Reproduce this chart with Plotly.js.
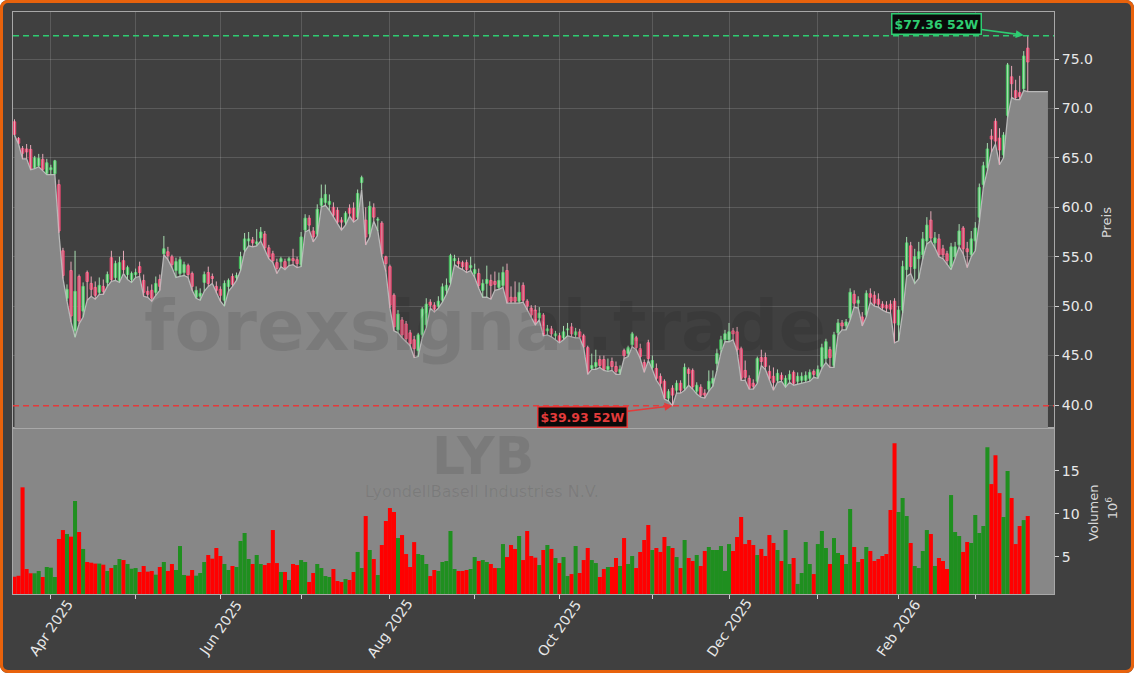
<!DOCTYPE html>
<html><head><meta charset="utf-8">
<script src="https://cdn.plot.ly/plotly-3.0.1.min.js"></script>
<style>
html,body{margin:0;padding:0;background:#ffffff;}
#wrap{position:relative;width:1134px;height:673px;}
#chart{position:absolute;left:0;top:0;width:1134px;height:673px;border-radius:8px;overflow:hidden;}
#frame{position:absolute;left:0;top:0;width:1134px;height:673px;box-sizing:border-box;border:3px solid #e8620c;border-radius:8px;pointer-events:none;}
</style></head><body>
<div id="wrap"><div id="chart"></div><div id="frame"></div></div>
<script>
// ---- data (LYB daily, 52 weeks) ----
const firstDay = '2025-03-19';
const holidays = ['2025-04-18','2025-05-26','2025-06-19','2025-07-04','2025-09-01','2025-11-27','2025-12-25','2026-01-01','2026-01-19','2026-02-16'];
const tickLabels = ['Apr 2025','Jun 2025','Aug 2025','Oct 2025','Dec 2025','Feb 2026'];
const priceTicks = [40,45,50,55,60,65,70,75];
const volumeTicks = [5,10,15];

const open = [68.65,66.97,65.96,65.9,65.86,64.0,64.2,64.85,63.4,63.8,63.4,62.3,55.6,50.8,53.6,47.5,53.0,49.5,53.4,52.3,
51.9,51.4,52.0,52.4,54.9,52.9,52.6,54.6,53.2,52.7,53.2,54.0,52.6,51.5,51.6,51.4,52.7,55.3,55.5,55.0,
53.6,53.3,53.4,54.1,53.3,50.9,51.0,52.4,53.4,53.0,52.0,51.7,50.6,52.0,53.0,52.9,53.8,55.7,56.6,56.7,
56.3,56.9,57.3,55.9,55.3,54.4,54.5,54.5,54.6,54.8,54.7,54.2,57.7,58.9,57.6,57.3,60.2,60.5,60.3,60.0,
59.7,58.7,58.5,59.9,59.9,59.0,62.5,58.7,57.3,59.95,58.7,58.4,55.0,54.0,51.1,47.6,48.6,48.2,47.3,46.6,
45.5,47.1,48.1,50.4,50.1,50.0,50.6,51.6,52.4,54.6,54.5,54.4,54.4,53.9,53.3,53.3,51.6,52.3,52.6,52.5,
51.9,52.1,53.6,50.9,50.9,50.5,52.1,50.5,49.8,49.6,48.8,49.1,47.5,47.7,47.0,47.0,46.8,47.6,47.9,47.1,
47.4,47.0,45.8,43.7,43.9,44.6,44.6,43.6,44.4,43.9,43.3,45.5,45.2,46.1,46.8,45.7,44.3,46.3,43.8,43.7,
42.9,42.4,40.7,41.7,41.5,42.2,41.7,43.6,43.5,41.4,41.8,41.2,41.6,42.2,44.2,45.6,46.6,46.6,47.5,47.4,
45.7,43.5,42.7,42.2,42.4,44.8,44.8,43.4,42.9,42.5,43.0,42.0,42.6,43.3,42.4,42.5,42.5,42.7,43.4,42.9,
43.9,44.7,45.6,44.0,47.3,48.3,48.0,48.8,51.2,50.3,48.9,49.1,51.25,51.1,50.7,50.2,50.1,50.2,50.5,48.1,
49.6,53.7,56.1,53.8,54.8,55.2,56.6,58.7,56.4,56.8,55.8,55.3,54.0,55.0,56.2,57.9,55.8,55.2,56.6,59.0,
62.3,64.0,67.2,68.7,67.0,65.3,69.3,73.2,71.8,71.6,72.0,76.1];
const high = [68.9,67.1,66.2,66.4,66.3,65.2,65.4,65.4,64.9,64.3,64.8,62.8,55.9,52.2,54.5,55.6,53.2,52.4,53.6,53.0,
52.5,52.9,52.7,53.5,55.6,54.6,55.0,55.6,54.1,53.5,53.8,54.5,53.2,52.0,52.2,53.0,53.2,57.1,56.0,55.2,
54.9,55.0,54.5,54.3,53.5,52.0,51.8,53.5,54.0,53.3,52.5,52.0,52.6,52.8,53.3,53.4,55.5,57.4,57.5,57.0,
57.8,58.0,57.6,56.2,55.6,54.8,55.0,54.8,55.0,55.8,55.0,57.5,59.3,59.2,58.0,60.3,62.3,62.3,61.3,60.5,
60.0,59.0,59.6,60.3,60.5,61.8,63.2,60.0,60.6,60.4,59.0,58.6,55.1,54.2,51.3,49.6,48.9,48.5,47.6,47.0,
47.3,49.9,50.8,50.7,50.4,51.0,52.3,52.8,55.3,55.2,54.9,54.6,54.7,55.0,54.3,53.8,52.7,54.1,53.2,53.5,
53.4,54.0,54.3,52.0,52.5,52.4,52.4,50.7,50.1,50.1,49.9,49.3,48.1,48.0,47.5,47.3,48.0,48.3,48.3,47.8,
47.7,47.2,46.0,45.2,45.6,45.0,45.0,44.7,44.8,44.4,44.0,45.7,46.0,47.4,47.0,46.2,44.6,46.6,45.0,44.2,
43.2,42.6,41.6,42.0,42.5,42.5,44.2,43.8,43.7,42.3,42.1,41.6,43.5,43.5,45.7,47.0,47.6,48.3,47.8,47.9,
45.9,44.5,43.0,42.6,44.9,45.6,45.3,44.0,43.8,43.6,43.3,43.0,43.5,43.5,43.3,43.3,43.4,43.6,43.6,44.0,
46.2,46.7,45.9,47.4,48.7,48.6,48.7,51.8,51.6,51.0,49.4,51.6,51.8,51.5,51.3,50.5,50.5,50.6,50.8,50.0,
54.6,57.0,56.5,55.8,56.5,57.5,59.0,59.6,57.5,57.3,56.2,55.6,56.4,56.5,58.3,58.1,56.5,57.6,58.5,62.4,
64.6,66.5,67.9,69.0,68.0,67.6,74.6,74.3,72.9,73.3,75.8,77.36];
const low = [67.3,66.4,64.9,64.9,63.8,63.9,64.1,63.7,63.3,63.3,63.3,57.4,52.8,50.5,48.4,46.86,48.2,48.9,50.6,51.0,
50.7,51.2,51.2,52.0,52.5,52.6,52.4,53.3,52.7,52.4,52.9,53.0,51.0,50.9,50.5,51.1,51.6,55.2,54.7,53.9,
52.9,53.0,53.1,52.9,51.6,50.8,50.6,51.5,52.0,52.3,51.3,50.5,50.0,51.5,52.0,52.6,53.6,55.5,56.1,56.0,
56.1,56.6,55.7,54.8,54.4,53.3,54.0,53.7,54.1,54.2,53.9,54.0,57.5,57.7,56.5,57.1,60.0,60.2,59.7,59.0,
58.3,57.7,58.2,59.1,58.5,58.8,61.8,56.2,57.0,58.6,57.6,55.0,53.5,49.8,47.5,47.3,46.8,46.4,46.0,44.8,
44.9,46.8,47.8,49.8,49.4,49.8,50.4,51.2,52.2,54.2,53.9,53.7,53.4,53.6,52.9,51.8,50.9,50.9,50.7,51.6,
51.7,51.9,50.3,50.3,50.3,50.3,50.4,49.6,48.9,48.1,48.6,47.0,47.1,46.9,46.6,46.3,46.6,47.0,46.9,46.8,
46.8,45.8,43.1,43.6,43.6,43.8,43.5,43.4,43.5,43.1,43.1,44.7,44.9,45.9,45.6,44.7,43.3,44.5,43.6,42.5,
41.9,40.6,40.4,39.93,41.2,41.2,41.5,42.0,41.6,41.1,40.8,40.7,41.4,41.9,43.5,45.3,46.4,46.4,46.6,45.4,
42.5,42.5,41.6,41.6,42.2,44.0,43.6,42.5,41.5,42.3,42.4,41.8,42.3,42.0,42.1,42.2,42.3,42.4,42.8,42.7,
43.7,44.3,43.8,43.8,47.1,47.6,47.6,48.6,49.9,49.8,48.0,48.9,50.4,50.0,49.9,49.6,49.4,49.3,46.3,46.5,
49.3,53.0,53.3,52.3,52.8,54.8,56.3,56.6,55.9,55.0,54.8,54.2,53.7,54.8,56.0,55.3,53.9,55.0,55.6,58.5,
62.0,63.7,65.6,66.4,64.3,65.0,69.1,71.1,70.9,70.9,71.8,71.7];
const close = [67.38,66.47,65.46,65.6,63.91,65.0,64.95,63.84,64.5,64.0,64.7,57.6,53.1,51.7,49.0,51.5,48.5,52.0,52.5,51.7,
51.1,52.1,51.5,53.2,52.7,54.3,54.4,53.7,53.9,53.3,53.4,53.4,51.4,51.2,50.8,52.3,52.0,55.8,55.1,54.2,
54.5,54.7,54.2,53.2,52.0,51.6,51.3,53.2,52.3,52.8,51.6,51.1,52.3,52.6,52.2,53.1,55.0,56.8,56.8,56.4,
56.5,57.5,55.9,55.0,54.6,53.8,54.8,53.9,54.8,54.6,54.3,57.0,58.9,58.2,57.0,59.8,60.9,61.3,60.6,59.2,
58.5,58.5,59.4,59.4,58.7,61.4,63.0,57.0,60.1,59.0,58.8,55.3,54.3,50.1,47.9,49.2,47.1,46.7,46.2,45.7,
47.1,49.7,50.2,50.1,49.7,50.5,51.95,52.1,55.1,54.8,54.3,54.0,53.7,54.1,53.7,52.1,52.3,52.7,52.1,52.2,
52.6,53.4,50.4,50.5,50.5,51.4,50.6,50.0,49.1,48.3,49.3,47.1,47.7,47.2,47.2,46.5,47.4,47.7,47.2,47.4,
46.9,45.9,43.2,44.0,44.3,44.0,43.6,43.9,43.9,43.4,43.6,45.0,45.8,47.2,45.8,44.9,43.4,44.7,44.5,42.7,
42.2,40.7,41.35,41.0,42.2,41.5,43.8,43.2,41.85,42.0,41.0,41.0,42.4,42.7,45.2,46.6,47.2,47.4,47.2,45.6,
42.7,42.8,41.7,41.9,44.7,44.4,43.9,42.7,42.3,43.2,42.6,42.7,43.1,42.2,42.9,42.9,43.0,43.3,43.1,43.6,
45.8,46.4,44.8,47.1,48.3,48.0,48.4,51.4,50.3,50.6,48.3,51.3,50.9,50.3,50.2,49.85,49.8,49.7,48.3,49.6,
54.0,56.4,54.0,55.0,55.5,56.8,58.2,56.9,56.9,55.2,55.2,54.6,56.0,56.0,57.6,55.8,55.5,56.8,57.9,62.0,
64.2,65.9,66.9,66.7,65.8,67.3,74.4,72.5,71.1,71.2,75.3,74.7];
const volume = [2.67,2.78,13.07,3.57,3.07,3.07,3.34,2.64,3.80,3.72,2.64,7.06,8.1,7.64,7.33,11.48,7.87,5.9,4.38,4.3,
4.2,4.2,4.07,3.34,3.68,4.03,4.73,4.61,4.15,3.6,3.68,3.22,3.92,3.26,3.34,2.91,3.80,4.38,3.34,4.15,
3.45,6.24,2.87,2.79,3.45,2.79,3.1,4.38,5.2,4.77,6.01,5.08,4.15,3.45,3.92,3.80,6.83,7.76,4.73,4.15,
5.2,4.15,4.03,4.26,8.1,4.26,3.22,3.22,2.29,4.15,4.03,4.61,4.38,2.06,3.1,4.15,3.68,2.75,2.64,3.57,
2.17,2.06,2.4,2.29,3.22,5.55,3.68,9.73,5.78,4.73,2.87,6.36,9.15,10.66,10.2,7.17,7.52,5.31,3.80,6.7,
5.31,5.2,4.15,2.75,3.45,3.34,4.38,4.5,7.99,3.57,3.34,3.34,3.45,3.57,4.96,4.5,4.61,4.38,4.15,3.68,
3.68,6.47,4.96,6.36,5.9,7.41,4.61,7.99,5.08,4.89,4.03,5.78,6.36,5.9,4.85,4.26,4.96,2.75,2.98,6.24,
3.1,4.61,6.01,4.61,4.26,2.64,3.57,3.80,3.80,4.85,3.92,7.17,4.15,5.08,3.68,5.55,6.94,8.69,5.78,6.01,
5.55,7.29,6.24,6.01,4.96,3.68,6.94,4.85,4.5,5.2,3.92,5.66,6.13,5.78,5.78,6.24,3.34,6.47,5.66,7.29,
9.62,6.47,6.94,6.36,5.2,5.9,5.08,7.52,6.59,5.78,4.5,8.1,4.15,4.85,1.83,3.1,6.71,4.15,2.98,6.47,
7.99,6.01,4.15,7.17,5.43,5.2,4.15,10.55,6.13,4.38,4.73,6.13,5.66,4.5,4.73,5.08,5.31,10.43,18.2,10.2,
11.83,9.73,6.59,3.92,3.68,5.66,8.1,7.64,3.92,4.85,4.5,3.57,12.17,7.87,7.41,5.55,6.71,6.59,9.85,7.76,
8.57,17.73,13.45,16.8,12.4,9.62,14.96,11.83,6.47,8.57,9.26,9.73];

// ---- build trading calendar for tick placement ----
const N = close.length;
const dates = [];
{
  let d = new Date(firstDay + 'T12:00:00Z');
  while (dates.length < N) {
    const s = d.toISOString().slice(0,10);
    const wd = d.getUTCDay();
    if (wd !== 0 && wd !== 6 && holidays.indexOf(s) < 0) dates.push(s);
    d = new Date(d.getTime() + 86400000);
  }
}
const idx = dates.map((_, i) => i);
const monthStarts = [];
for (let i = 1; i < N; i++) if (dates[i].slice(0,7) !== dates[i-1].slice(0,7)) monthStarts.push(i);
const monthNames = ['Jan','Feb','Mar','Apr','May','Jun','Jul','Aug','Sep','Oct','Nov','Dec'];
const labelOf = i => monthNames[+dates[i].slice(5,7)-1] + ' ' + dates[i].slice(0,4);
const labelled = monthStarts.filter(i => tickLabels.indexOf(labelOf(i)) >= 0);

const up = close.map((c, i) => c >= open[i]);
const GREEN_EDGE = '#3fc45a', GREEN_FILL = '#8fd09a', GREEN_WICK = '#a6dcb0';
const RED_EDGE = '#f24a74', RED_FILL = '#c0284e', RED_WICK = '#e5a9b8';

function wickTrace(isUp) {
  const xs = [], ys = [];
  for (let i = 0; i < N; i++) if (up[i] === isUp) { xs.push(i, i, null); ys.push(low[i], high[i], null); }
  return {type:'scatter', mode:'lines', x:xs, y:ys, xaxis:'x2', yaxis:'y',
    line:{color: isUp ? GREEN_WICK : RED_WICK, width:1}, hoverinfo:'skip', showlegend:false};
}

const lastX = N - 1 + 5;
const fillTrace = {type:'scatter', mode:'lines', x: idx.concat([lastX]), y: low.concat([low[N-1]]),
  xaxis:'x2', yaxis:'y', fill:'tozeroy', fillcolor:'#878787',
  line:{color:'#b8b8b8', width:1.3}, hoverinfo:'skip', showlegend:false};

const bodyTrace = {type:'bar', x: idx, base: idx.map(i => Math.min(open[i], close[i])),
  y: idx.map(i => Math.max(Math.abs(close[i]-open[i]), 0.06)), width:0.6,
  xaxis:'x2', yaxis:'y',
  marker:{color: up.map(u => u ? GREEN_FILL : RED_FILL), line:{color: up.map(u => u ? GREEN_EDGE : RED_EDGE), width:1}},
  hoverinfo:'skip', showlegend:false};

const volTrace = {type:'bar', x: idx, y: volume, width:1.0, xaxis:'x', yaxis:'y2',
  marker:{color: up.map(u => u ? '#1f8f1f' : '#ff0000'), line:{width:0}},
  hoverinfo:'skip', showlegend:false};

let hiIdx = 0, loIdx = 0;
for (let i = 0; i < N; i++) { if (high[i] > high[hiIdx]) hiIdx = i; if (low[i] < low[loIdx]) loIdx = i; }

const AX = '#a8a8a8', TXT = '#e8e8e8', GRID = 'rgba(255,255,255,0.14)';
const font = 'DejaVu Sans, Arial, sans-serif';
const priceDom = [0.2852, 1];
const C = {xanchor:'center', yanchor:'middle', showarrow:false};

const annotations = [
  Object.assign({text:'<b>forexsignal.trade</b>', xref:'paper', yref:'paper', x:0.4534, y:0.4605,
   font:{family:font, size:70, color:'rgba(0,0,0,0.09)'}}, C),
  Object.assign({text:'<b>LYB</b>', xref:'paper', yref:'paper', x:0.4515, y:0.2375,
   font:{family:font, size:52, color:'rgba(0,0,0,0.09)'}}, C),
  Object.assign({text:'LyondellBasell Industries N.V.', xref:'paper', yref:'paper', x:0.4505, y:0.176,
   font:{family:font, size:16, color:'rgba(0,0,0,0.09)'}}, C),
  Object.assign({text:'Preis', xref:'paper', yref:'paper', x:1.0499, y:0.639, textangle:-90,
   font:{family:font, size:13, color:'#d8d8d8'}}, C),
  Object.assign({text:'Volumen', xref:'paper', yref:'paper', x:1.0375, y:0.139, textangle:-90,
   font:{family:font, size:13, color:'#d8d8d8'}}, C),
  Object.assign({text:'10<sup>6</sup>', xref:'paper', yref:'paper', x:1.0557, y:0.149, textangle:-90,
   font:{family:font, size:13, color:'#d8d8d8'}}, C),
  {text:'<b>$' + high[hiIdx].toFixed(2) + ' 52W</b>', xref:'x2', yref:'y', x:hiIdx, y:high[hiIdx],
   showarrow:true, ax:-91, ay:-12, arrowhead:2, arrowsize:1, arrowwidth:1.6, arrowcolor:'#2ecc71', standoff:4,
   bgcolor:'#0a0a0a', bordercolor:'#2ecc71', borderwidth:1.5, borderpad:2,
   font:{family:font, size:12.5, color:'#2ecc71'}},
  {text:'<b>$' + low[loIdx].toFixed(2) + ' 52W</b>', xref:'x2', yref:'y', x:loIdx, y:low[loIdx],
   showarrow:true, ax:-90, ay:11, arrowhead:2, arrowsize:1, arrowwidth:1.6, arrowcolor:'#e33b3b', standoff:0,
   bgcolor:'#0a0a0a', bordercolor:'#e33b3b', borderwidth:1.5, borderpad:2,
   font:{family:font, size:12.5, color:'#e33b3b'}}
];
labelled.forEach(i => {
  annotations.push(Object.assign({text: labelOf(i), xref:'x', yref:'paper',
    x:i, y:-0.0584, textangle:-55, font:{family:font, size:14, color:TXT}}, C));
});

const layout = {
  width:1134, height:673, margin:{l:13, r:80, t:12, b:79},
  paper_bgcolor:'#404040', plot_bgcolor:'#404040', barmode:'overlay', showlegend:false, hovermode:false,
  xaxis:{domain:[0,1], anchor:'y2', range:[-0.37, 257.5], tickvals: monthStarts, ticktext: monthStarts.map(() => ''),
    ticks:'outside', ticklen:4, tickcolor:'#d0d0d0', showgrid:false, showline:true, linecolor:AX, linewidth:1, mirror:true, zeroline:false},
  xaxis2:{matches:'x', anchor:'y', tickvals: monthStarts, showticklabels:false, ticks:'',
    showgrid:true, gridcolor:GRID, gridwidth:1, showline:true, linecolor:AX, linewidth:1, mirror:true, zeroline:false},
  yaxis:{domain:priceDom, anchor:'x2', side:'right', range:[37.673, 79.754], tickvals: priceTicks,
    ticktext: priceTicks.map(v => v.toFixed(1)), ticks:'outside', ticklen:4, tickcolor:'#d0d0d0',
    tickfont:{family:font, size:14, color:TXT}, showgrid:true, gridcolor:GRID, gridwidth:1,
    showline:true, linecolor:AX, linewidth:1, mirror:true, zeroline:false},
  yaxis2:{domain:[0, priceDom[0]], anchor:'x', side:'right', range:[0.66, 19.97], tickvals: volumeTicks,
    ticks:'outside', ticklen:4, tickcolor:'#d0d0d0', tickfont:{family:font, size:14, color:TXT},
    showgrid:false, showline:true, linecolor:AX, linewidth:1, mirror:true, zeroline:false},
  shapes:[
    {type:'rect', xref:'paper', yref:'y2 domain', x0:0, x1:1, y0:0, y1:1, fillcolor:'#878787', line:{width:0}, layer:'below'},
    {type:'line', xref:'paper', yref:'y', x0:0, x1:1, y0:high[hiIdx], y1:high[hiIdx], line:{color:'#2ecc71', width:1.5, dash:'6px,4px'}},
    {type:'line', xref:'paper', yref:'y', x0:0, x1:1, y0:low[loIdx], y1:low[loIdx], line:{color:'#e33b3b', width:1.5, dash:'6px,4px'}}
  ],
  annotations: annotations
};

Plotly.newPlot('chart', [fillTrace, wickTrace(true), wickTrace(false), bodyTrace, volTrace], layout, {displayModeBar:false, staticPlot:true});
</script></body></html>
